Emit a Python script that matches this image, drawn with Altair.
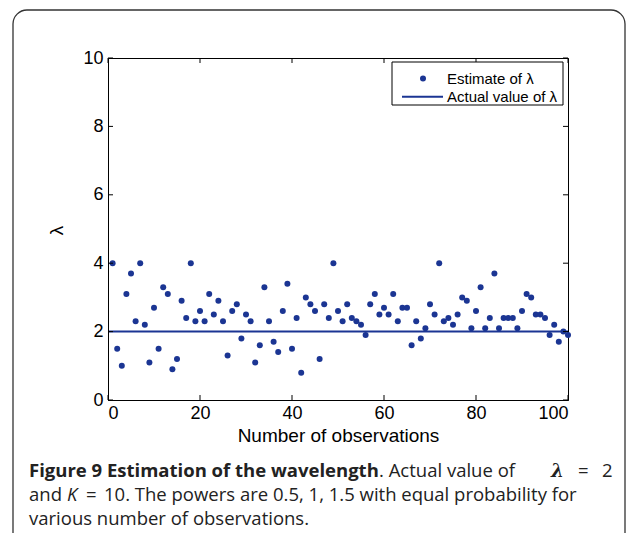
import altair as alt
import pandas as pd

# ---- data ----
obs = list(range(1, 101))
estimates = [4.0, 1.5, 1.0, 3.1, 3.7, 2.3, 4.0, 2.2, 1.1, 2.7,
             1.5, 3.3, 3.1, 0.9, 1.2, 2.9, 2.4, 4.0, 2.3, 2.6,
             2.3, 3.1, 2.5, 2.9, 2.3, 1.3, 2.6, 2.8, 1.8, 2.5,
             2.3, 1.1, 1.6, 3.3, 2.3, 1.7, 1.4, 2.6, 3.4, 1.5,
             2.4, 0.8, 3.0, 2.8, 2.6, 1.2, 2.8, 2.4, 4.0, 2.6,
             2.3, 2.8, 2.4, 2.3, 2.2, 1.9, 2.8, 3.1, 2.5, 2.7,
             2.5, 3.1, 2.3, 2.7, 2.7, 1.6, 2.3, 1.8, 2.1, 2.8,
             2.5, 4.0, 2.3, 2.4, 2.2, 2.5, 3.0, 2.9, 2.1, 2.6,
             3.3, 2.1, 2.4, 3.7, 2.1, 2.4, 2.4, 2.4, 2.1, 2.6,
             3.1, 3.0, 2.5, 2.5, 2.4, 1.9, 2.2, 1.7, 2.0, 1.9]
actual_x = [0, 100]
actual_y = [2, 2]
x_ticks = [0, 20, 40, 60, 80, 100]
y_ticks = [0, 2, 4, 6, 8, 10]

BLUE = "#1b3593"
AX_FONT = "Liberation Sans"
CAP_FONT = "Open Sans"
W, H = 460, 342

pts = pd.DataFrame({"n": obs, "est": estimates})
act = pd.DataFrame({"n": actual_x, "v": actual_y})
xt = pd.DataFrame({"t": x_ticks})
yt = pd.DataFrame({"t": y_ticks})
one = pd.DataFrame({"a": [0]})

xscale = alt.Scale(domain=[0, 100], nice=False, zero=False)
yscale = alt.Scale(domain=[0, 10], nice=False, zero=False)

xaxis = alt.Axis(values=x_ticks, ticks=False, grid=False, domainColor="black",
                 labelFont=AX_FONT, labelFontSize=18, labelColor="black",
                 labelPadding=4, title="Number of observations",
                 titleFont=AX_FONT, titleFontSize=19, titleFontWeight="normal",
                 titleColor="black", titlePadding=4, zindex=1)
yaxis = alt.Axis(values=y_ticks, ticks=False, grid=False, domainColor="black",
                 labelFont=AX_FONT, labelFontSize=18, labelColor="black",
                 labelPadding=5, title="λ", titleFont=AX_FONT, titleFontSize=19,
                 titleFontWeight="normal", titleColor="black",
                 titleX=-52, titleY=172, titleAlign="center", titleBaseline="middle",
                 titleAngle=270, zindex=1)

card = alt.Chart(one).mark_rect(fillOpacity=0, stroke="#333333", strokeWidth=1.3,
                                cornerRadius=14).encode(
    x=alt.value(-95), x2=alt.value(517), y=alt.value(-48), y2=alt.value(520))

points = alt.Chart(pts).mark_circle(size=36, color=BLUE, opacity=1).encode(
    x=alt.X("n:Q", scale=xscale, axis=xaxis),
    y=alt.Y("est:Q", scale=yscale, axis=yaxis))

line = alt.Chart(act).mark_line(color=BLUE, strokeWidth=2).encode(
    x=alt.X("n:Q", scale=xscale), y=alt.Y("v:Q", scale=yscale))

tk = dict(color="black", strokeWidth=1)
bt = alt.Chart(xt).mark_rule(**tk).encode(x=alt.X("t:Q", scale=xscale), y=alt.value(H), y2=alt.value(H - 5))
tt = alt.Chart(xt).mark_rule(**tk).encode(x=alt.X("t:Q", scale=xscale), y=alt.value(0), y2=alt.value(5))
lt = alt.Chart(yt).mark_rule(**tk).encode(y=alt.Y("t:Q", scale=yscale), x=alt.value(0), x2=alt.value(5))
rt = alt.Chart(yt).mark_rule(**tk).encode(y=alt.Y("t:Q", scale=yscale), x=alt.value(W), x2=alt.value(W - 5))

# legend
leg_box = alt.Chart(one).mark_rect(fill="white", stroke="black", strokeWidth=1).encode(
    x=alt.value(284), x2=alt.value(455), y=alt.value(4), y2=alt.value(47))
leg_pt = alt.Chart(one).mark_circle(size=36, color=BLUE, opacity=1).encode(
    x=alt.value(315), y=alt.value(20.5))
leg_ln = alt.Chart(one).mark_rule(color=BLUE, strokeWidth=2).encode(
    x=alt.value(294), x2=alt.value(335), y=alt.value(38.7))
leg_t1 = alt.Chart(one).mark_text(text="Estimate of λ", font=AX_FONT, fontSize=15,
                                  align="left", baseline="middle", color="black").encode(
    x=alt.value(339), y=alt.value(20.5))
leg_t2 = alt.Chart(one).mark_text(text="Actual value of λ", font=AX_FONT, fontSize=15,
                                  align="left", baseline="middle", color="black").encode(
    x=alt.value(339), y=alt.value(38.7))

# caption
Y1, Y2, Y3 = 419, 443, 467
cap = dict(font=CAP_FONT, fontSize=18.5, align="left", baseline="alphabetic", color="#222222")
c1a = alt.Chart(one).mark_text(text="Figure 9 Estimation of the wavelength", fontWeight="bold", **cap).encode(
    x=alt.value(-79), y=alt.value(Y1))
c1b = alt.Chart(one).mark_text(text=". Actual value of", **cap).encode(x=alt.value(271), y=alt.value(Y1))
c1c = alt.Chart(one).mark_text(text="λ", fontStyle="italic", fontWeight="bold",
                               **dict(cap, font="DejaVu Serif")).encode(x=alt.value(443), y=alt.value(Y1))
c1d = alt.Chart(one).mark_text(text="=", **cap).encode(x=alt.value(470), y=alt.value(Y1))
c1e = alt.Chart(one).mark_text(text="2", **cap).encode(x=alt.value(494), y=alt.value(Y1))
c2a = alt.Chart(one).mark_text(text="and", **cap).encode(x=alt.value(-79), y=alt.value(Y2))
c2b = alt.Chart(one).mark_text(text="K", fontStyle="italic", **cap).encode(x=alt.value(-41), y=alt.value(Y2))
c2c = alt.Chart(one).mark_text(text="=", **cap).encode(x=alt.value(-22), y=alt.value(Y2))
c2d = alt.Chart(one).mark_text(text="10. The powers are 0.5, 1, 1.5 with equal probability for", **cap).encode(
    x=alt.value(-4), y=alt.value(Y2))
c3 = alt.Chart(one).mark_text(text="various number of observations.", **cap).encode(
    x=alt.value(-79), y=alt.value(Y3))

chart = alt.layer(card, line, points, bt, tt, lt, rt, leg_box, leg_pt, leg_ln, leg_t1, leg_t2,
                  c1a, c1b, c1c, c1d, c1e, c2a, c2b, c2c, c2d, c3).properties(
    width=W, height=H,
    autosize=alt.AutoSizeParams(type="none"),
    padding={"left": 100, "top": 50, "right": 59, "bottom": 133},
    background="white",
).configure_view(stroke="black", strokeWidth=1)

chart.save("out.html", embed_options={"renderer": "svg", "actions": False})
